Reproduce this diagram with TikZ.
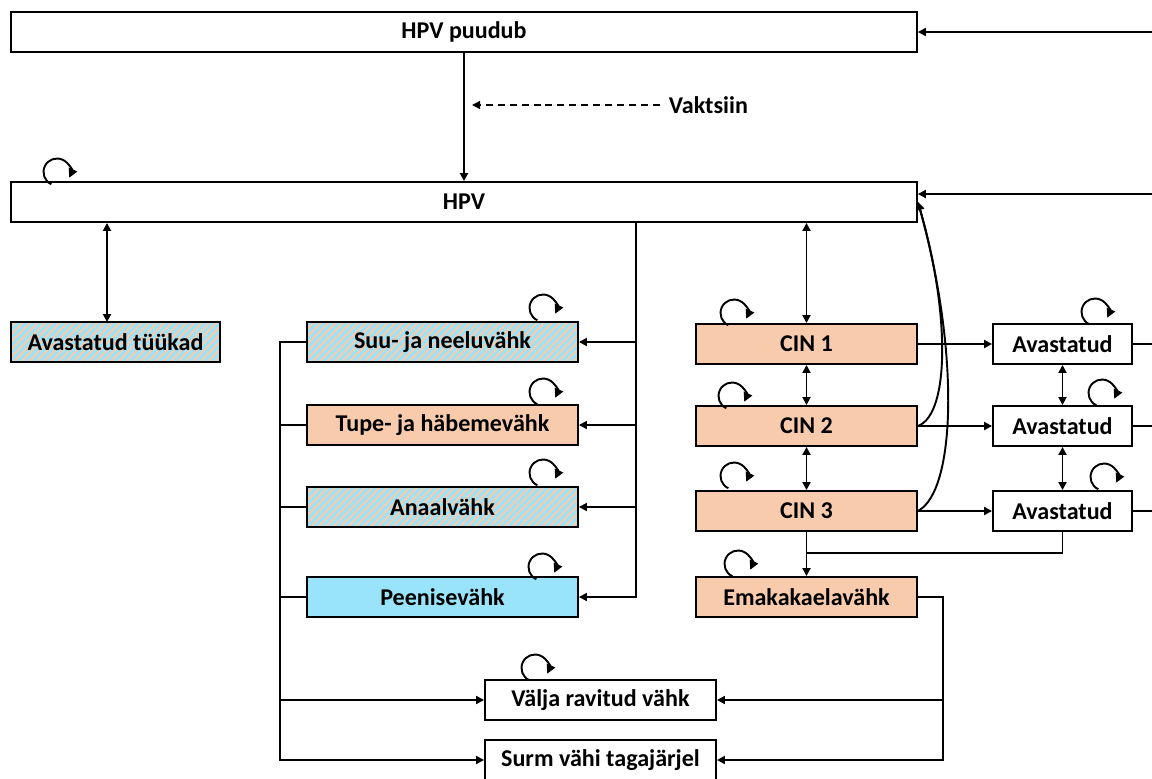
\documentclass[tikz,border=0pt]{standalone}
\usepackage{fontspec}
\setmainfont{Carlito}
\usetikzlibrary{arrows.meta,patterns.meta}
\definecolor{cinorange}{HTML}{F8CBAD}
\definecolor{penblue}{HTML}{99E4FB}

\begin{document}
\begin{tikzpicture}[x=0.02cm, y=-0.02cm, line width=1.1pt,
    font=\fontsize{13.7}{16}\selectfont\bfseries,
    state/.style={draw, minimum height=0.8cm, inner sep=0pt},
    hatched/.style={preaction={fill=penblue},
        pattern={Lines[angle=45,distance=3pt,line width=1.2pt]}, pattern color=cinorange},
    arr/.style={-{Triangle[length=1.6mm,width=1.6mm]}},
    darr/.style={{Triangle[length=1.6mm,width=1.6mm]}-{Triangle[length=1.6mm,width=1.6mm]}},
    selfloop/.pic={\draw[-{Triangle[length=1.8mm,width=1.8mm]}, line width=1.1pt] (245:0.27cm) arc[start angle=245, end angle=-25, radius=0.27cm];}]
    % constants
    \def\hpvwidth{18.12cm}
    \def\cancerwidth{5.42cm}
    \def\cinwidth{4.42cm}
    \def\detwidth{2.78cm}
    \def\outwidth{4.62cm}
    \useasboundingbox (0,0) rectangle (1152,778);
    % infection states
    \node [state, minimum width=\hpvwidth] (puudub) at (464,32) {HPV puudub};
    \node [state, minimum width=\hpvwidth] (hpv) at (464,202) {HPV};
    \node [anchor=west, inner sep=0pt] (vakts) at (668,105) {Vaktsiin};
    \node [state, hatched, minimum width=4.18cm] (tuukad) at (115.5,342) {Avastatud tüükad};
    % other cancers
    \node [state, hatched, minimum width=\cancerwidth] (suu) at (442.5,342) {Suu- ja neeluvähk};
    \node [state, fill=cinorange, minimum width=\cancerwidth] (tupe) at (442.5,425) {Tupe- ja häbemevähk};
    \node [state, hatched, minimum width=\cancerwidth] (anaal) at (442.5,507) {Anaalvähk};
    \node [state, fill=penblue, minimum width=\cancerwidth] (peenis) at (442.5,597) {Peenisevähk};
    % cervical states
    \node [state, fill=cinorange, minimum width=\cinwidth] (cin1) at (806.5,344) {CIN 1};
    \node [state, fill=cinorange, minimum width=\cinwidth] (cin2) at (806.5,426) {CIN 2};
    \node [state, fill=cinorange, minimum width=\cinwidth] (cin3) at (806.5,511) {CIN 3};
    \node [state, fill=cinorange, minimum width=\cinwidth] (emak) at (806.5,597) {Emakakaelavähk};
    \node [state, minimum width=\detwidth] (det1) at (1062.5,344) {Avastatud};
    \node [state, minimum width=\detwidth] (det2) at (1062.5,426) {Avastatud};
    \node [state, minimum width=\detwidth] (det3) at (1062.5,511) {Avastatud};
    % outcomes
    \node [state, minimum width=\outwidth] (valja) at (600.5,700) {Välja ravitud vähk};
    \node [state, minimum width=\outwidth] (surm) at (600.5,760) {Surm vähi tagajärjel};
    % helper points
    \coordinate (lbus) at (280,0);
    \coordinate (rbus) at (636,0);
    \coordinate (ebus) at (943,0);
    \coordinate (join) at (807,553);
    \coordinate (tk) at (107,322);
    \coordinate (vakend) at (472,105);
    \coordinate (in1) at (1152,32);
    \coordinate (in2) at (1152,194);
    \coordinate (out1) at (1152,344);
    \coordinate (out2) at (1152,426);
    \coordinate (out3) at (1152,511);
    % top part
    \draw [arr] (in1) -- (puudub.east);
    \draw [arr] (in2) -- (in2 -| hpv.east);
    \draw [arr] (puudub.south) -- (hpv.north);
    \draw [arr, line width=0.8pt, dash pattern=on 4pt off 2.8pt] ([xshift=-0.16cm]vakts.west) -- (vakend);
    \draw [darr] (tk |- hpv.south) -- (tk);
    % other cancers
    \draw [arr] (hpv.south -| rbus) |- (peenis.east);
    \foreach \n in {suu,tupe,anaal}
        \draw [arr] (\n.east -| rbus) -- (\n.east);
    \draw [arr] (suu.west) -| (lbus |- surm.west) -- (surm.west);
    \foreach \n in {tupe,anaal,peenis}
        \draw (\n.west) -- (\n.west -| lbus);
    \draw [arr] (valja.west -| lbus) -- (valja.west);
    % cervical chain
    \draw [darr] (hpv.south -| cin1.north) -- (cin1.north);
    \draw [darr] (cin1.south) -- (cin2.north);
    \draw [darr] (cin2.south) -- (cin3.north);
    \draw [arr] (cin3.south) -- (emak.north);
    \draw [darr] (det1.south) -- (det2.north);
    \draw [darr] (det2.south) -- (det3.north);
    \foreach \i in {1,2,3} {
        \draw [arr] (cin\i.east) -- (det\i.west);
        \draw (det\i.east) -- (out\i);
    }
    \draw (det3.south) |- (join);
    \draw [arr] (cin2.east) .. controls +(32,-12) and +(32,110) .. (hpv.east);
    \draw [arr] (cin3.east) .. controls +(38,-20) and +(42,150) .. (hpv.east);
    \draw [arr] (emak.east) -| (ebus |- surm.east) -- (surm.east);
    \draw [arr] (ebus |- valja.east) -- (valja.east);
    % self loops
    \foreach \x/\y in {57/172, 543/308, 543/392, 543/473, 542/567, 734/313, 732/396,
                       734/476, 738/564, 1095/312, 1102/393, 1104/477, 535/668}
        \pic at (\x,\y) {selfloop};
\end{tikzpicture}
\end{document}
